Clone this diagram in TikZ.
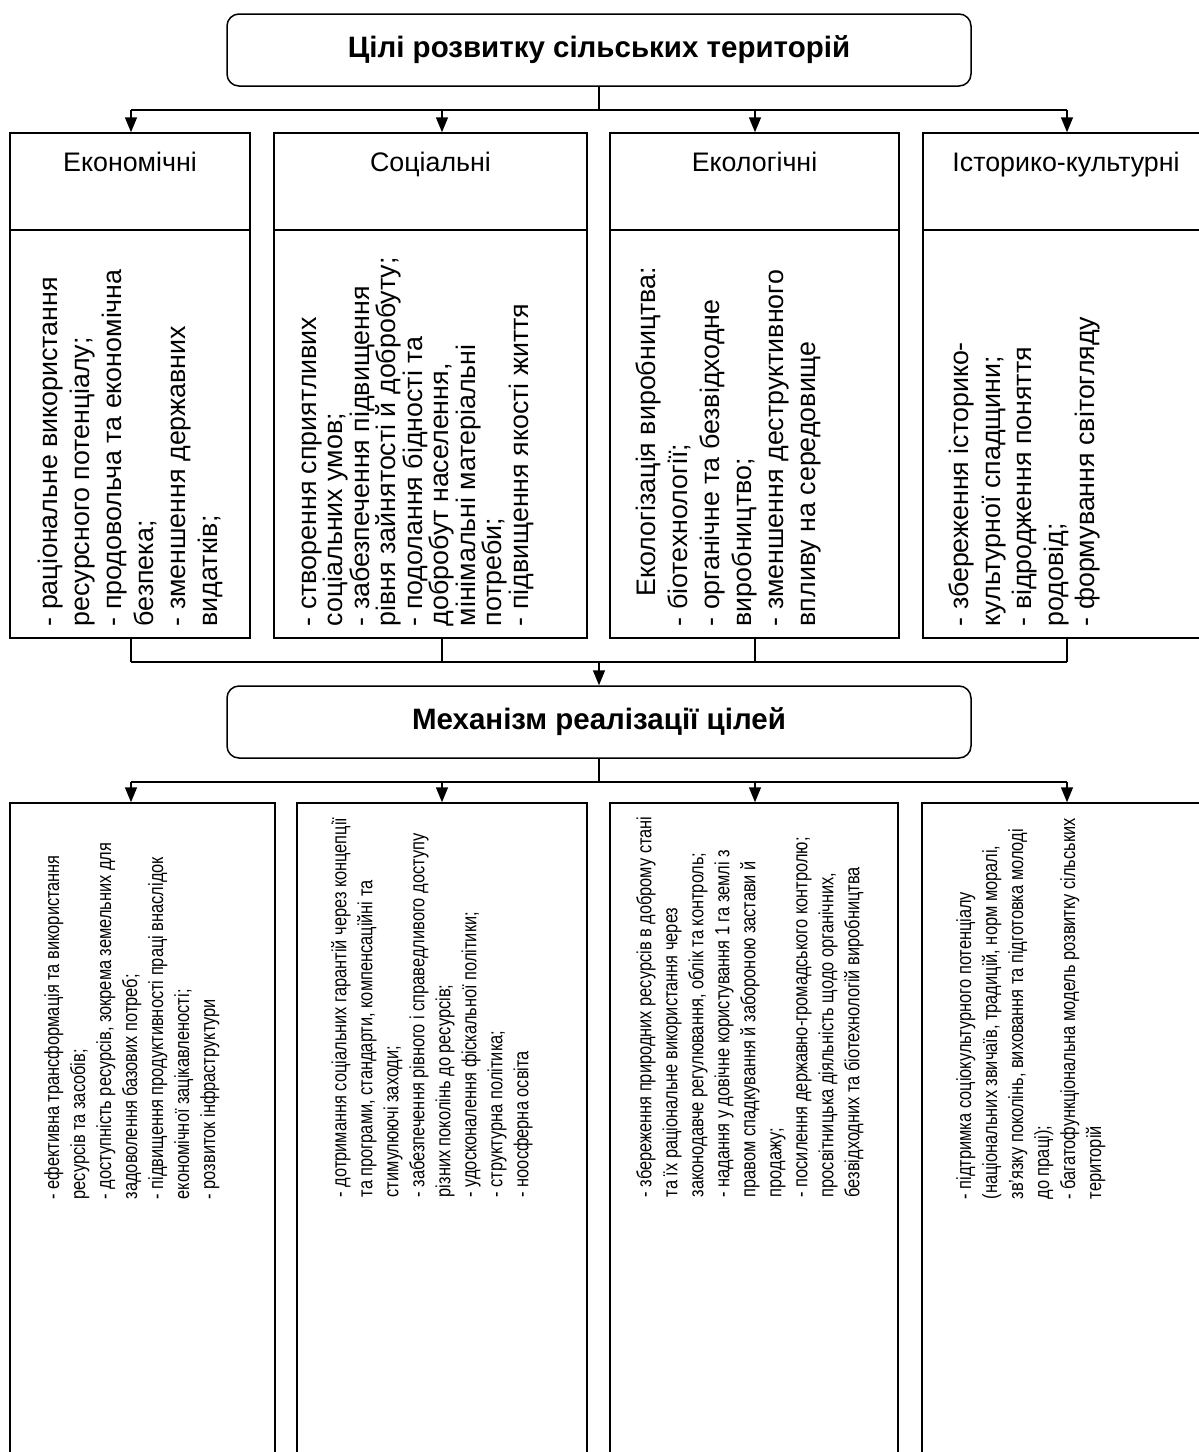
\documentclass[tikz,border=0pt]{standalone}
\usepackage{fontspec}
\setmainfont{Liberation Sans}
\newfontfamily\narrowfont{Liberation Sans}[FakeStretch=0.80]
\usetikzlibrary{arrows.meta}
\begin{document}
\begin{tikzpicture}[x=1pt,y=1pt,line width=1.5pt,
  roundbox/.style={draw, rounded corners=12pt, minimum width=744pt, minimum height=72pt, inner sep=0pt,
    font=\fontsize{29.5}{34}\selectfont\bfseries},
  plainbox/.style={draw, inner sep=0pt},
  lbl/.style={inner sep=0pt, anchor=base, font=\fontsize{26.8}{30}\selectfont},
  uptext/.style={rotate=90, anchor=north west, align=left, inner sep=0pt},
  lowtext/.style={rotate=90, anchor=north west, align=left, inner sep=0pt,
    font=\narrowfont\fontsize{20.5}{26}\selectfont},
  arr/.style={-{Triangle[length=15pt,width=12pt]}}]
\useasboundingbox (0,0) rectangle (1199,-1452);
\clip (0,0) rectangle (1199,-1452);

% top goal box
\node[roundbox] (goal) at (599,-50) {Цілі розвитку сільських територій};

% header boxes
\node[plainbox, minimum width=240pt, minimum height=97pt] (h1) at (130,-181.5) {};
\node[plainbox, minimum width=313pt, minimum height=97pt] (h2) at (430.5,-181.5) {};
\node[plainbox, minimum width=289pt, minimum height=97pt] (h3) at (754.5,-181.5) {};
\node[plainbox, minimum width=290pt, minimum height=97pt] (h4) at (1068,-181.5) {};
\node[lbl] (l1) at (130,-171.5) {Економічні};
\node[lbl] (l2) at (430.5,-171.5) {Соціальні};
\node[lbl] (l3) at (754.5,-171.5) {Екологічні};
\node[lbl] (l4) at (1066,-171.5) {Історико-культурні};

% content boxes
\node[plainbox, minimum width=240pt, minimum height=408pt] (e1) at (130,-434) {};
\node[plainbox, minimum width=313pt, minimum height=408pt] (e2) at (430.5,-434) {};
\node[plainbox, minimum width=289pt, minimum height=408pt] (e3) at (754.5,-434) {};
\node[plainbox, minimum width=290pt, minimum height=408pt] (e4) at (1068,-434) {};

\node[uptext, font=\fontsize{26.8}{32}\selectfont] (t1) at (37.5,-627) {- раціональне використання\\ресурсного потенціалу;\\- продовольча та економічна\\безпека;\\- зменшення державних\\видатків;};
\node[uptext, font=\fontsize{26.8}{26.5}\selectfont] (t2) at (301,-627) {- створення сприятливих\\соціальних умов;\\- забезпечення підвищення\\рівня зайнятості й добробуту;\\- подолання бідності та\\добробут населення,\\мінімальні матеріальні\\потреби;\\- підвищення якості життя};
\node[uptext, font=\fontsize{26.8}{32}\selectfont] (t3) at (635.5,-627) {\hspace*{30pt}Екологізація виробництва:\\- біотехнології;\\- органічне та безвідходне\\виробництво;\\- зменшення деструктивного\\впливу на середовище};
\node[uptext, font=\fontsize{26.8}{31.5}\selectfont] (t4) at (948.5,-627) {- збереження історико-\\культурної спадщини;\\- відродження поняття\\родовід;\\- формування світогляду};

% mechanism box
\node[roundbox] (mech) at (599,-722) {Механізм реалізації цілей};

% lower boxes
\node[plainbox, minimum width=265pt, minimum height=667pt] (m1) at (142.5,-1136.5) {};
\node[plainbox, minimum width=290pt, minimum height=667pt] (m2) at (442,-1136.5) {};
\node[plainbox, minimum width=288pt, minimum height=667pt] (m3) at (754,-1136.5) {};
\node[plainbox, minimum width=290pt, minimum height=667pt] (m4) at (1067,-1136.5) {};

\node[lowtext] (u1) at (43.5,-1200) {- ефективна трансформація та використання\\ресурсів та засобів;\\- доступність ресурсів, зокрема земельних для\\задоволення базових потреб;\\- підвищення продуктивності праці внаслідок\\економічної зацікавленості;\\- розвиток інфраструктури};
\node[lowtext] (u2) at (330.5,-1198) {- дотримання соціальних гарантій через концепції\\та програми, стандарти, компенсаційні та\\стимулюючі заходи;\\- забезпечення рівного і справедливого доступу\\різних поколінь до ресурсів;\\- удосконалення фіскальної політики;\\- структурна політика;\\- ноосферна освіта};
\node[lowtext] (u3) at (635.5,-1198) {- збереження природних ресурсів в доброму стані\\та їх раціональне використання через\\законодавче регулювання, облік та контроль;\\- надання у довічне користування 1 га землі з\\правом спадкування й забороною застави й\\продажу;\\- посилення державно-громадського контролю;\\просвітницька діяльність щодо органічних,\\безвідходних та біотехнологій виробництва};
\node[lowtext] (u4) at (955.5,-1200) {- підтримка соціокультурного потенціалу\\(національних звичаїв, традицій, норм моралі,\\зв’язку поколінь, виховання та підготовка молоді\\до праці);\\- багатофункціональна модель розвитку сільських\\територій};

% connector coordinates
\coordinate (a1) at (131,-110);
\coordinate (a2) at (442,-110);
\coordinate (a3) at (755,-110);
\coordinate (a4) at (1067,-110);
\coordinate (b1) at (131,-662);
\coordinate (b2) at (442,-662);
\coordinate (b3) at (755,-662);
\coordinate (b4) at (1067,-662);
\coordinate (d1) at (131,-782);
\coordinate (d2) at (442,-782);
\coordinate (d3) at (755,-782);
\coordinate (d4) at (1067,-782);

% top connectors
\draw (goal.south) -- (goal.south |- a1);
\draw (a1) -- (a4);
\draw[arr] (a1) -- (a1 |- h1.north);
\draw[arr] (a2) -- (a2 |- h2.north);
\draw[arr] (a3) -- (a3 |- h3.north);
\draw[arr] (a4) -- (a4 |- h4.north);

% middle connectors
\draw (b1 |- e1.south) -- (b1);
\draw (b2 |- e2.south) -- (b2);
\draw (b3 |- e3.south) -- (b3);
\draw (b4 |- e4.south) -- (b4);
\draw (b1) -- (b4);
\draw[arr] (mech.north |- b1) -- (mech.north);

% bottom connectors
\draw (mech.south) -- (mech.south |- d1);
\draw (d1) -- (d4);
\draw[arr] (d1) -- (d1 |- m1.north);
\draw[arr] (d2) -- (d2 |- m2.north);
\draw[arr] (d3) -- (d3 |- m3.north);
\draw[arr] (d4) -- (d4 |- m4.north);
\end{tikzpicture}
\end{document}
